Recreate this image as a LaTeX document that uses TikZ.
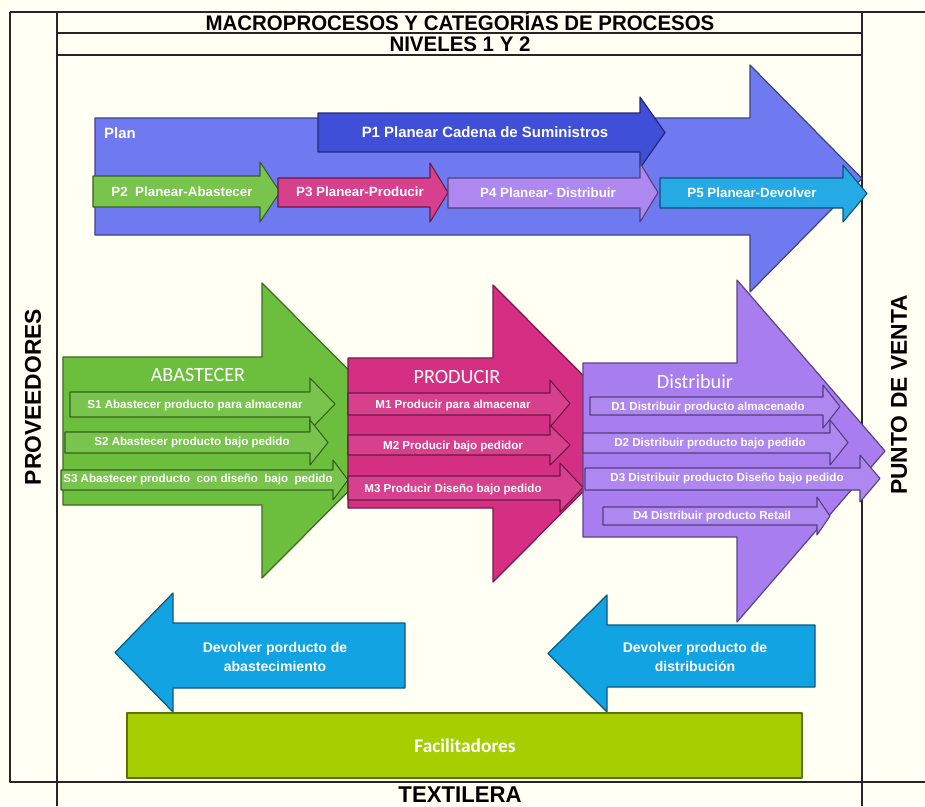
\documentclass[tikz,border=0pt]{standalone}
\usepackage{fontspec}
\setmainfont{Liberation Sans}
\newfontfamily\calfont{Carlito}
\newfontfamily\condfont[FakeStretch=0.97]{Liberation Sans}
\definecolor{fondo}{HTML}{FFFFF3}
\definecolor{azulplan}{HTML}{6F7AF0}
\definecolor{azulpuno}{HTML}{3F4FD8}
\definecolor{verde}{HTML}{6CBF3C}
\definecolor{fucsia}{HTML}{D42F83}
\definecolor{lila}{HTML}{A77DF0}
\definecolor{celeste}{HTML}{12A3E3}
\definecolor{oliva}{HTML}{A6CE00}
\newcommand{\flecha}[8]{%
  \draw[#1] (#2,#5) -- (#3,#5) -- (#3,#7) -- (#4,{(#7+#8)/2}) -- (#3,#8) -- (#3,#6) -- (#2,#6) -- cycle;}
\tikzset{
  marco/.style={line width=0.9pt, draw=black!85},
  flecha/.style={fill=#1, draw=#1!55!black, line width=0.7pt},
  subflecha/.style={fill=#1!92!white, draw=#1!50!black, line width=0.6pt},
  lbl/.style={text=white, font=\bfseries\fontsize{6.6}{8}\selectfont},
  plbl/.style={text=white, font=\bfseries\fontsize{7.6}{9}\selectfont},
  seccion/.style={text=white, font=\calfont\fontsize{11.5}{13}\selectfont},
  cabecera/.style={inner sep=0pt, anchor=base, font=\condfont\bfseries\fontsize{12}{12}\selectfont},
  lateral/.style={font=\bfseries\fontsize{13}{14}\selectfont, rotate=90},
}
\begin{document}
\begin{tikzpicture}[x=0.02cm, y=-0.02cm, line join=round]
\useasboundingbox (0,0) rectangle (925,806);
\fill[fondo] (0,0) rectangle (925,806);
\draw[marco] (10,12) -- (925,12) (10,12) -- (10,782) -- (925,782)
  (57,12) -- (57,806) (862,12) -- (862,806) (57,33) -- (862,33) (57,55) -- (862,55);
\node[cabecera] (titulo) at (460,30) {MACROPROCESOS Y CATEGORÍAS DE PROCESOS};
\node[cabecera] (niveles) at (460,51.5) {NIVELES 1 Y 2};
\node[cabecera, font=\condfont\bfseries\fontsize{13}{13}\selectfont] (textilera) at (460,802) {TEXTILERA};
\node[lateral] (proveed) at (33,397) {PROVEEDORES};
\node[lateral] (ptoventa) at (899,395) {PUNTO DE VENTA};
% plan
\flecha{flecha=azulplan}{95}{750}{862}{118}{235}{65}{292}
\flecha{flecha=azulpuno}{318}{640}{665}{113}{152}{97}{168}
\flecha{subflecha=verde}{93}{260}{280}{176}{207}{162}{222}
\flecha{subflecha=fucsia}{278}{430}{448}{178}{207}{163}{222}
\flecha{subflecha=lila}{448}{640}{658}{178}{208}{163}{222}
\flecha{subflecha=celeste}{660}{843}{867}{178}{208}{165}{222}
\node[text=white, font=\bfseries\fontsize{8.5}{10}\selectfont, anchor=west] (plan) at (98,133) {Plan};
\node[text=white, font=\bfseries\fontsize{8.5}{10}\selectfont] (p1) at (485,132) {P1 Planear Cadena de Suministros};
\node[plbl] (p2) at (182,192) {P2\ \ Planear-Abastecer};
\node[plbl] (p3) at (360,192) {P3 Planear-Producir};
\node[plbl] (p4) at (548,193) {P4 Planear- Distribuir};
\node[plbl] (p5) at (752,193) {P5 Planear-Devolver};
% abastecer
\flecha{flecha=verde}{63}{262}{409}{357}{505}{283}{578}
\flecha{subflecha=verde}{70}{310}{335}{392}{417}{378}{430}
\flecha{subflecha=verde}{65}{310}{328}{432}{453}{420}{465}
\flecha{subflecha=verde}{61}{333}{348}{470}{490}{460}{500}
\node[seccion] (abast) at (198,375) {ABASTECER};
\node[lbl] (s1) at (195,405) {S1 Abastecer producto para almacenar};
\node[lbl] (s2) at (192,442) {S2 Abastecer producto bajo pedido};
\node[lbl] (s3) at (198,479) {S3 Abastecer producto\ \ con diseño\ \ bajo\ \ pedido};
% producir
\flecha{flecha=fucsia}{348}{493}{641}{358}{508}{285}{582}
\flecha{subflecha=fucsia}{348}{550}{570}{393}{415}{380}{427}
\flecha{subflecha=fucsia}{348}{550}{570}{435}{455}{425}{465}
\flecha{subflecha=fucsia}{348}{560}{583}{476}{500}{463}{512}
\node[seccion] (prod) at (457,377) {PRODUCIR};
\node[lbl] (m1) at (453,405) {M1 Producir para almacenar};
\node[lbl] (m2) at (453,446) {M2 Producir bajo pedidor};
\node[lbl] (m3) at (453,489) {M3 Producir Diseño bajo pedido};
% distribuir
\flecha{flecha=lila}{583}{737}{885}{363}{537}{280}{622}
\flecha{subflecha=lila}{590}{823}{840}{397}{415}{385}{428}
\flecha{subflecha=lila}{583}{830}{848}{433}{453}{420}{465}
\flecha{subflecha=lila}{585}{860}{880}{468}{490}{455}{502}
\flecha{subflecha=lila}{603}{817}{830}{507}{525}{497}{535}
\node[seccion] (dist) at (695,382) {Distribuir};
\node[lbl] (d1) at (708,407) {D1 Distribuir producto almacenado};
\node[lbl] (d2) at (710,443) {D2 Distribuir producto bajo pedido};
\node[lbl] (d3) at (727,478) {D3 Distribuir producto Diseño bajo pedido};
\node[lbl] (d4) at (712,516) {D4 Distribuir producto Retail};
% devolver
\flecha{flecha=celeste}{405}{173}{115}{623}{688}{593}{712}
\flecha{flecha=celeste}{815}{607}{548}{625}{687}{595}{712}
\node[plbl, align=center, font=\bfseries\fontsize{8}{11}\selectfont] (devab) at (275,657) {Devolver porducto de\\abastecimiento};
\node[plbl, align=center, font=\bfseries\fontsize{8}{11}\selectfont] (devdis) at (695,657) {Devolver producto de\\distribución};
\draw[flecha=oliva] (127,713) rectangle (802,778);
\node[text=white, font=\calfont\bfseries\fontsize{11}{13}\selectfont] (facil) at (465,746) {Facilitadores};
\end{tikzpicture}
\end{document}
